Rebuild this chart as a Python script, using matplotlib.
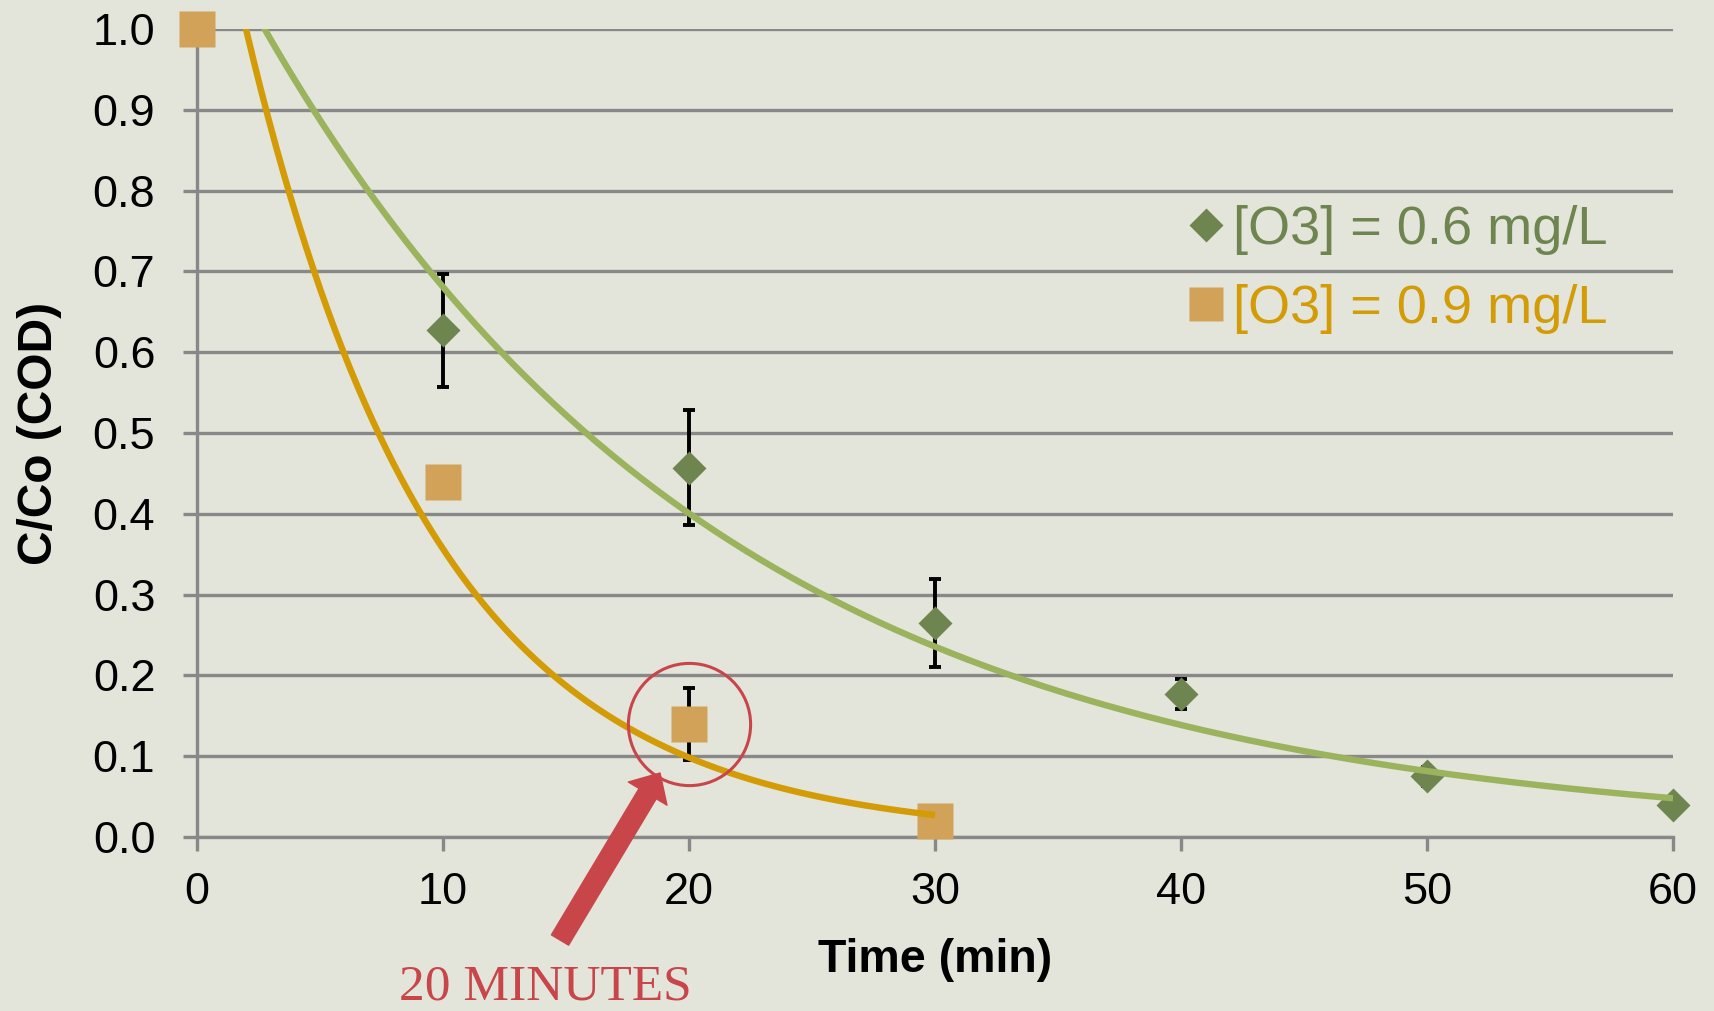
import numpy as np
import matplotlib
matplotlib.use("Agg")
import matplotlib.pyplot as plt
from matplotlib.lines import Line2D

plt.rcParams.update({"font.family": ["Liberation Sans", "DejaVu Sans"]})

# ---------- data ----------
time_06 = [0, 10, 20, 30, 40, 50, 60]
ratio_06 = [1.0, 0.627, 0.457, 0.265, 0.177, 0.075, 0.040]
err_06 = [0.0, 0.070, 0.071, 0.054, 0.018, 0.012, 0.0]

time_09 = [0, 10, 20, 30]
ratio_09 = [1.0, 0.439, 0.140, 0.020]
err_09 = [0.0, 0.0, 0.045, 0.0]

label_06 = "[O3] = 0.6 mg/L"
label_09 = "[O3] = 0.9 mg/L"
x_ticks = [0, 10, 20, 30, 40, 50, 60]
y_ticks = [0.0, 0.1, 0.2, 0.3, 0.4, 0.5, 0.6, 0.7, 0.8, 0.9, 1.0]

BG = "#E3E5DB"
GRID = "#888888"
DIAMOND = "#6F8550"
GREEN_LINE = "#9CB35E"
SQUARE = "#D1A257"
ORANGE_LINE = "#D39B06"
RED = "#C8464A"


def exp_trend(x, y):
    # excel style exponential trendline: fit log(y) linearly
    b, a = np.polyfit(x, np.log(y), 1)
    xs = np.linspace(min(x), max(x), 300)
    return xs, np.exp(a) * np.exp(b * xs)


fig = plt.figure(figsize=(17.14, 10.11), dpi=100, facecolor=BG)
ax = fig.add_axes([197/1714, 1 - 837/1011, (1673-197)/1714, (837-29)/1011])
ax.set_facecolor("none")

# error bars (behind markers)
ax.errorbar(time_06, ratio_06, yerr=err_06, fmt="none", ecolor="black",
            elinewidth=2.8, capsize=4.5, capthick=2.8, zorder=3)
ax.errorbar(time_09, ratio_09, yerr=err_09, fmt="none", ecolor="black",
            elinewidth=2.8, capsize=4.5, capthick=2.8, zorder=3)

# markers
ax.plot(time_06, ratio_06, linestyle="none", marker="D", ms=17,
        color=DIAMOND, mec="none", zorder=4, clip_on=False)
ax.plot(time_09, ratio_09, linestyle="none", marker="s", ms=26,
        color=SQUARE, mec="none", zorder=5, clip_on=False)

# trendlines on top
xs, ys = exp_trend(time_06, ratio_06)
ax.plot(xs, ys, color=GREEN_LINE, lw=4.6, zorder=6, solid_capstyle="butt")
xs, ys = exp_trend(time_09, ratio_09)
ax.plot(xs, ys, color=ORANGE_LINE, lw=4.6, zorder=7, solid_capstyle="butt")

ax.set_xlim(0, 60)
ax.set_ylim(0, 1.0)
ax.set_xticks(x_ticks)
ax.set_yticks(y_ticks)
ax.set_yticklabels([f"{v:.1f}" for v in y_ticks])
ax.tick_params(axis="both", colors=GRID, labelcolor="black", labelsize=32.5,
               length=10, width=2.4, direction="out")
ax.tick_params(axis="y", pad=20)
ax.tick_params(axis="x", pad=15)
for s in ["top", "right"]:
    ax.spines[s].set_visible(False)
for s in ["left", "bottom"]:
    ax.spines[s].set_color(GRID)
    ax.spines[s].set_linewidth(2.4)
ax.grid(axis="y", color=GRID, lw=2.4, zorder=1)
ax.set_axisbelow(True)

ax.set_xlabel("Time (min)", fontsize=33.5, fontweight="bold", labelpad=18)
ax.set_ylabel("C/Co (COD)", fontsize=34.5, fontweight="bold", labelpad=22)

# legend (markers only, coloured texts)
handles = [Line2D([], [], linestyle="none", marker="D", ms=17, color=DIAMOND, mec="none"),
           Line2D([], [], linestyle="none", marker="s", ms=24, color=SQUARE, mec="none")]
leg = fig.legend(handles, [label_06, label_09], loc="center left",
                 bbox_to_anchor=(1190/1714, 1 - 269.5/1011), frameon=False,
                 fontsize=39, handlelength=0.6, handletextpad=0.2,
                 labelspacing=0.52, borderpad=0, borderaxespad=0)
leg.get_texts()[0].set_color(DIAMOND)
leg.get_texts()[1].set_color(ORANGE_LINE)

# highlight of the 20 minute point
ax.plot(time_09[2], ratio_09[2], marker="o", ms=88, mfc="none", mec=RED,
        mew=2.2, linestyle="none", zorder=8, clip_on=False)
ax.annotate("", xy=(660/1714, 1 - 773/1011), xytext=(560/1714, 1 - 940/1011),
            xycoords="figure fraction", textcoords="figure fraction",
            arrowprops=dict(arrowstyle="simple,head_length=1.2,head_width=2.25,tail_width=1.0",
                            mutation_scale=14.4, color=RED, shrinkA=0, shrinkB=0))
fig.text(399/1714, 1 - 999/1011, "20 MINUTES", color=RED, fontsize=37,
         family=["Liberation Serif", "DejaVu Serif"], ha="left", va="baseline")

fig.savefig("out.png", dpi=100, facecolor=BG)
print("saved out.png")
